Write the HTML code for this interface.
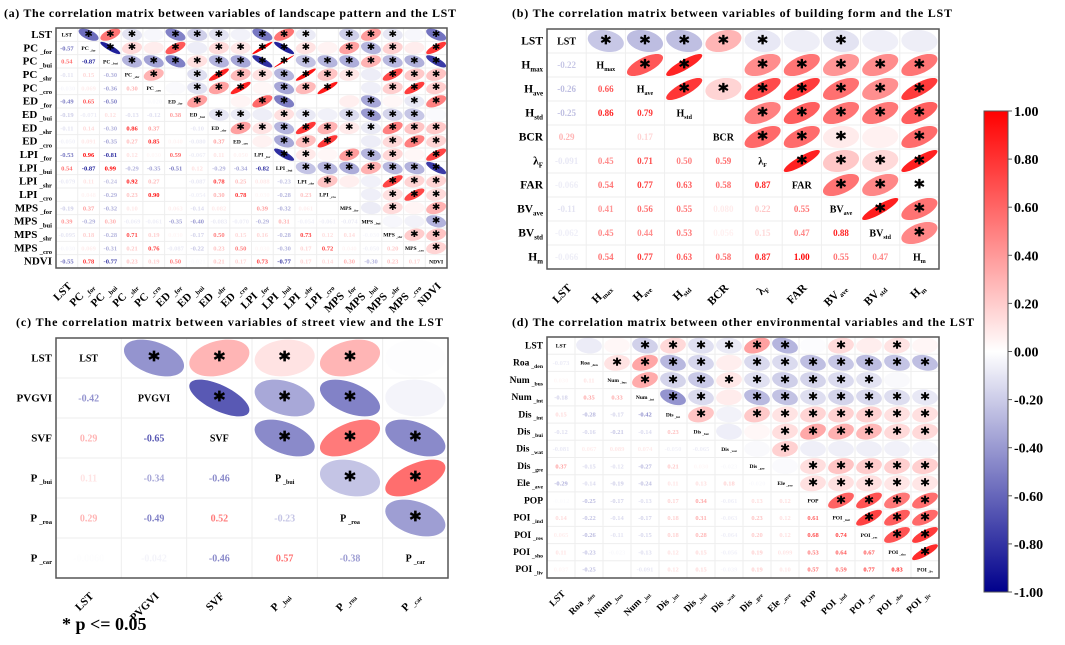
<!DOCTYPE html>
<html><head><meta charset="utf-8"><style>
body{margin:0;background:#fff;}
svg{display:block;font-family:"Liberation Serif",serif;font-weight:bold;}
</style></head><body>
<svg id="fig" width="1065" height="645" viewBox="0 0 1065 645">
<text x="4" y="17" font-size="12" textLength="452">(a) The correlation matrix between variables of landscape pattern and the LST</text>
<text x="512" y="17" font-size="12" textLength="440">(b) The correlation matrix between variables of building form and the LST</text>
<text x="16" y="326" font-size="12" textLength="427">(c) The correlation matrix between variables of street view and the LST</text>
<text x="512" y="326" font-size="12" textLength="462">(d) The correlation matrix between other environmental variables and the LST</text>
<text x="62" y="630" font-size="18">* p &lt;= 0.05</text>
</svg>
<script>
const namesA=["LST","PC|_for","PC|_bui","PC|_shr","PC|_cro","ED|_for","ED|_bui","ED|_shr","ED|_cro","LPI|_for","LPI|_bui","LPI|_shr","LPI|_cro","MPS|_for","MPS|_bui","MPS|_shr","MPS|_cro","NDVI"];
const lowerA=[[],
[-0.57],
[0.54,-0.87],
[-0.11,0.15,-0.30],
[-0.03,0.069,-0.36,0.30],
[-0.49,0.65,-0.50,null,-0.02],
[-0.19,-0.071,0.12,-0.13,-0.12,0.38],
[-0.11,0.14,-0.30,0.86,0.37,null,-0.10],
[-0.05,0.091,-0.35,0.27,0.85,0.04,-0.080,0.37],
[-0.53,0.96,-0.81,0.12,0.03,0.59,-0.067,0.11,0.05],
[0.54,-0.87,0.99,-0.29,-0.35,-0.51,0.12,-0.29,-0.34,-0.82],
[-0.079,0.11,-0.24,0.92,0.27,null,-0.087,0.78,0.25,0.088,-0.23],
[null,0.048,-0.29,0.23,0.90,null,-0.054,0.30,0.78,0.03,-0.28,0.23],
[-0.19,0.37,-0.32,0.100,null,0.063,-0.14,0.082,null,0.39,-0.32,0.061,null],
[0.39,-0.29,0.30,-0.069,-0.061,-0.35,-0.40,-0.083,-0.070,-0.29,0.31,-0.054,-0.061,-0.074],
[-0.095,0.18,-0.28,0.71,0.19,0.03,-0.17,0.50,0.15,0.16,-0.28,0.73,0.12,0.14,-0.03],
[-0.03,0.069,-0.31,0.21,0.76,-0.087,-0.22,0.23,0.50,0.03,-0.30,0.17,0.72,0.04,-0.05,0.20],
[-0.55,0.78,-0.77,0.23,0.19,0.50,-0.021,0.21,0.17,0.73,-0.77,0.17,0.14,0.30,-0.30,0.23,0.17]];
const namesB=["LST","H|max","H|ave","H|std","BCR","λ|F","FAR","BV|ave","BV|std","H|m"];
const lowerB=[[],
[-0.22],
[-0.26,0.66],
[-0.25,0.86,0.79],
[0.29,null,0.17,null],
[-0.091,0.45,0.71,0.50,0.59],
[-0.066,0.54,0.77,0.63,0.58,0.87],
[-0.11,0.41,0.56,0.55,0.080,0.22,0.55],
[-0.062,0.45,0.44,0.53,0.056,0.15,0.47,0.88],
[-0.066,0.54,0.77,0.63,0.58,0.87,1.00,0.55,0.47]];
const namesC=["LST","PVGVI","SVF","P|_bui","P|_roa","P|_car"];
const lowerC=[[],
[-0.42],
[0.29,-0.65],
[0.11,-0.34,-0.46],
[0.29,-0.49,0.52,-0.23],
[-0.0060,-0.042,-0.46,0.57,-0.38]];
const namesD=["LST","Roa|_den","Num|_bus","Num|_int","Dis|_int","Dis|_bui","Dis|_wat","Dis|_gre","Ele|_ave","POP","POI|_ind","POI|_res","POI|_sho","POI|_liv"];
const lowerD=[[],
[-0.073],
[0.03,0.11],
[-0.18,0.35,0.33],
[0.15,-0.28,-0.17,-0.42],
[-0.12,-0.16,-0.21,-0.14,0.23],
[-0.081,0.067,0.089,0.074,-0.050,-0.065],
[0.37,-0.15,-0.12,-0.27,0.21,0.03,-0.023],
[-0.29,-0.14,-0.19,-0.24,0.11,0.13,0.18,-0.02],
[-0.012,-0.25,-0.17,-0.13,0.17,0.34,-0.061,0.13,0.12],
[0.14,-0.22,-0.14,-0.17,0.18,0.31,-0.063,0.23,0.12,0.61],
[0.065,-0.26,-0.11,-0.15,0.18,0.28,-0.064,0.20,0.12,0.68,0.74],
[0.11,-0.23,-0.023,-0.13,0.12,0.15,-0.056,0.19,0.099,0.53,0.64,0.67],
[0.037,-0.25,null,-0.091,0.12,0.15,-0.039,0.19,0.10,0.57,0.59,0.77,0.83]];
const cbTicks=[1,0.8,0.6,0.4,0.2,0,-0.2,-0.4,-0.6,-0.8,-1];

const NS="http://www.w3.org/2000/svg";
const svg=document.getElementById('fig');
function mk(t,a,p){const e=document.createElementNS(NS,t);for(const k in a)e.setAttribute(k,a[k]);(p||svg).appendChild(e);return e;}
function col(r){const a=Math.min(1,Math.abs(r));let R,G,B;
 if(r>=0){R=255;G=Math.round(255*(1-a));B=Math.round(255*(1-a));}
 else{R=Math.round(255*(1-a));G=Math.round(255*(1-a));B=Math.round(255-115*a);}
 return `rgb(${R},${G},${B})`;}
function fmt(v){return Math.abs(v)>=0.1?v.toFixed(2):v.toPrecision(2);}
function label(parent,name,x,y,size,anchor,extra){
 const p=name.split('|');const t=mk('text',Object.assign({x:x,y:y,'font-size':size,'text-anchor':anchor},extra||{}),parent);
 t.textContent=p[0];
 if(p[1]){const s=mk('tspan',{'font-size':size*0.6,dy:size*0.25,dx:p[1][0]=='_'?size*0.2:0},t);s.textContent=p[1];}
 return t;}
function drawMatrix(c){
 const g=mk('g',{});
 
 
 const n=c.names.length,cw=(c.x1-c.x0)/n,ch=(c.y1-c.y0)/n;
 const ss=Math.min(ch*1.0,c.star);
 const val=(i,j)=>i==j?1:(i>j?c.lower[i][j]:c.lower[j][i]);
 for(let i=0;i<=n;i++){
  mk('line',{x1:c.x0,x2:c.x1,y1:c.y0+i*ch,y2:c.y0+i*ch,stroke:'#eee','stroke-width':1},g);
  mk('line',{y1:c.y0,y2:c.y1,x1:c.x0+i*cw,x2:c.x0+i*cw,stroke:'#eee','stroke-width':1},g);}
 for(let i=0;i<n;i++)for(let j=0;j<n;j++){
  const cx=c.x0+(j+0.5)*cw,cy=c.y0+(i+0.5)*ch;
  if(i==j){const t=label(g,c.names[i],cx,cy+c.fd*0.35,c.fd,'middle');
   continue;}
  const v=val(i,j);if(v==null)continue;
  if(i>j){const t=mk('text',{x:cx,y:cy+c.fv*0.35,'font-size':c.fv,'text-anchor':'middle',fill:col(v)},g);
   t.textContent=fmt(v);
   }
  else{const d=Math.acos(Math.max(-1,Math.min(1,v)));let pts=[];
   for(let k=0;k<60;k++){const th=k/60*2*Math.PI;
    pts.push((cx+0.46*cw*Math.cos(th+d/2)).toFixed(2)+','+(cy-0.46*ch*Math.cos(th-d/2)).toFixed(2));}
   const e=mk('polygon',{points:pts.join(' '),fill:col(v)},g);
   
   if(Math.abs(v)>=0.075){const s=mk('text',{x:cx,y:cy+ss*0.42,'font-size':ss,'text-anchor':'middle',fill:'#000',stroke:'#000','stroke-width':ss*0.04,'font-family':'DejaVu Sans, sans-serif','font-weight':'bold'},g);
    s.textContent='*';
    }}
 }
 mk('rect',{x:c.x0,y:c.y0,width:c.x1-c.x0,height:c.y1-c.y0,fill:'none',stroke:'#555','stroke-width':1.5},g);
 for(let i=0;i<n;i++){
  const t=label(g,c.names[i],c.x0-4,c.y0+(i+0.5)*ch+c.fl*0.3,c.fl,'end');
  
  const x=c.x0+(i+0.5)*cw+c.fl*0.5,y=c.y1+c.fl*1.7;
  const u=label(g,c.names[i],x,y,c.fl,'end',{transform:`rotate(-45 ${x} ${y})`});
  }
}
drawMatrix({id:'matrix-landscape',names:namesA,lower:lowerA,x0:56,x1:447,y0:28,y1:268,fl:11,fv:6.5,fd:5.5,star:15});
drawMatrix({id:'matrix-building',names:namesB,lower:lowerB,x0:547,x1:939,y0:29,y1:269,fl:11.5,fv:9,fd:10,star:19});
drawMatrix({id:'matrix-streetview',names:namesC,lower:lowerC,x0:56,x1:448,y0:338,y1:578,fl:11,fv:10,fd:10,star:21});
drawMatrix({id:'matrix-environment',names:namesD,lower:lowerD,x0:547,x1:939,y0:337,y1:578,fl:9.5,fv:6.5,fd:5.5,star:16});
// colorbar
const cb=mk('g',{});


const defs=mk('defs',{},cb);const lg=mk('linearGradient',{id:'cbg',x1:0,y1:0,x2:0,y2:1},defs);
[[0,1],[0.5,0],[1,-1]].forEach(s=>mk('stop',{offset:s[0],'stop-color':col(s[1])},lg));
const cbTop=111,cbBot=592,cbX=984,cbW=24;
const cy=v=>cbTop+(1-v)/2*(cbBot-cbTop);
mk('rect',{x:cbX,y:cbTop,width:cbW,height:cbBot-cbTop,fill:'url(#cbg)',stroke:'#555','stroke-width':1},cb);
cbTicks.forEach(v=>{mk('line',{x1:cbX+cbW,x2:cbX+cbW+4,y1:cy(v),y2:cy(v),stroke:'#555'},cb);
 const t=mk('text',{x:cbX+cbW+6,y:cy(v)+5,'font-size':14},cb);t.textContent=v.toFixed(2);
 });
</script>
</body></html>
